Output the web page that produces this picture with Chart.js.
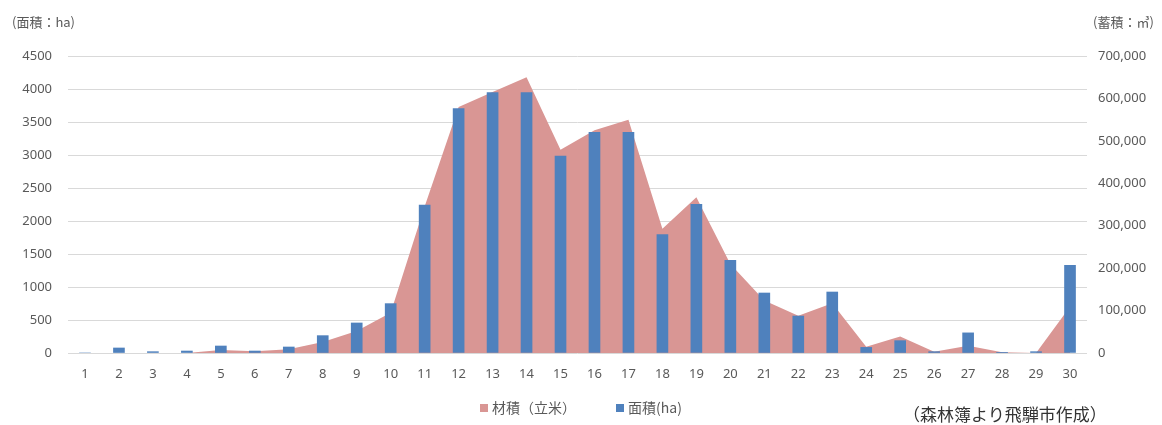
<!DOCTYPE html>
<html lang="ja">
<head>
<meta charset="utf-8">
<title>齢級別 面積・材積</title>
<script src="https://cdn.jsdelivr.net/npm/chart.js@4/dist/chart.umd.min.js"></script>
<style>
    body { margin: 0; background: #fff; }
    #wrap { position: relative; width: 1162px; height: 425px; font-family: "Noto Sans CJK JP", "Noto Sans", sans-serif; color: #595959; }
    #wrap canvas { position: absolute; left: 0; top: 0; }
    .unit { position: absolute; top: 12px; font-size: 13px; }
    #legend { position: absolute; top: 398px; left: 0; width: 1162px; display: flex; justify-content: center; gap: 40px; font-size: 14px; line-height: 18px; }
    #legend span.box { display: inline-block; width: 8px; height: 8px; margin-right: 4px; vertical-align: 1px; }
    #source { position: absolute; left: 903px; top: 401px; font-size: 17px; color: #333; }
</style>
</head>
<body>
<div id="wrap">
    <canvas id="ageClassChart" width="1162" height="425"></canvas>
    <div class="unit" style="left:12px">(面積：ha)</div>
    <div class="unit" style="left:1093px">(蓄積：㎥)</div>
    <div id="legend"></div>
    <div id="source">（森林簿より飛騨市作成）</div>
</div>
<script>
// 齢級 1〜30
const ageClasses = ['1', '2', '3', '4', '5', '6', '7', '8', '9', '10',
    '11', '12', '13', '14', '15', '16', '17', '18', '19', '20',
    '21', '22', '23', '24', '25', '26', '27', '28', '29', '30'];

// 面積 (ha)
const areaHa = [0, 76, 20, 30, 106, 30, 91, 263, 455, 748,
    2242, 3703, 3945, 3945, 2985, 3344, 3344, 1793, 2253, 1404,
    909, 560, 924, 85, 187, 20, 305, 10, 20, 1330];

// 材積 (立米)
const volumeM3 = [0, 0, 0, 0, 7000, 4000, 9000, 26000, 52000, 95000,
    345000, 580000, 615000, 650000, 479000, 525000, 550000, 293000, 367000, 210000,
    124000, 88000, 117000, 15000, 39000, 3000, 17000, 1500, 0, 109000];

const volumeLabel = '材積（立米）';
const areaLabel = '面積(ha)';
const volumeColor = '#d99694';
const areaColor = '#4f81bd';

const tickFont = { family: '"Noto Sans", sans-serif', size: 13 };

document.addEventListener("DOMContentLoaded", function() {
    initAgeClassChart();
    buildLegend();
});

function initAgeClassChart() {
    new Chart(document.getElementById('ageClassChart').getContext('2d'), {
        type: 'bar',
        data: {
            labels: ageClasses,
            datasets: [{
                // filled area only, no outline
                type: 'line',
                label: volumeLabel,
                data: volumeM3,
                yAxisID: 'y1',
                backgroundColor: volumeColor,
                borderColor: 'rgba(0,0,0,0)',
                borderWidth: 1,
                pointRadius: 0,
                fill: 'origin',
                tension: 0,
                order: 2
            }, {
                label: areaLabel,
                data: areaHa,
                yAxisID: 'y',
                backgroundColor: areaColor,
                barThickness: 11,
                order: 1
            }]
        },
        options: {
            responsive: false,
            animation: false,
            layout: { padding: { top: 56, bottom: 42, left: 0, right: 0 } },
            plugins: {
                legend: { display: false },
                tooltip: { enabled: false }
            },
            scales: {
                x: {
                    grid: { display: false },
                    border: { display: false },
                    ticks: { color: '#595959', font: tickFont, padding: 5, maxRotation: 0, autoSkip: false },
                    afterFit: (scale) => { scale.height = 30; }
                },
                y: {
                    position: 'left',
                    min: 0,
                    max: 4500,
                    grid: { color: '#d9d9d9', drawTicks: false },
                    border: { display: false },
                    ticks: {
                        stepSize: 500,
                        color: '#595959',
                        font: tickFont,
                        padding: 16,
                        callback: (value) => String(value)
                    },
                    afterFit: (scale) => { scale.width = 68; }
                },
                y1: {
                    position: 'right',
                    min: 0,
                    max: 700000,
                    grid: { display: false, drawTicks: false },
                    border: { display: false },
                    ticks: {
                        stepSize: 100000,
                        color: '#595959',
                        font: tickFont,
                        padding: 11,
                        callback: (value) => value.toLocaleString('en-US')
                    },
                    afterFit: (scale) => { scale.width = 75; }
                }
            }
        }
    });
}

function buildLegend() {
    const legend = document.getElementById('legend');
    [[volumeLabel, volumeColor], [areaLabel, areaColor]].forEach(([text, color]) => {
        const item = document.createElement('div');
        const box = document.createElement('span');
        box.className = 'box';
        box.style.background = color;
        item.appendChild(box);
        item.appendChild(document.createTextNode(text));
        legend.appendChild(item);
    });
}
</script>
</body>
</html>
